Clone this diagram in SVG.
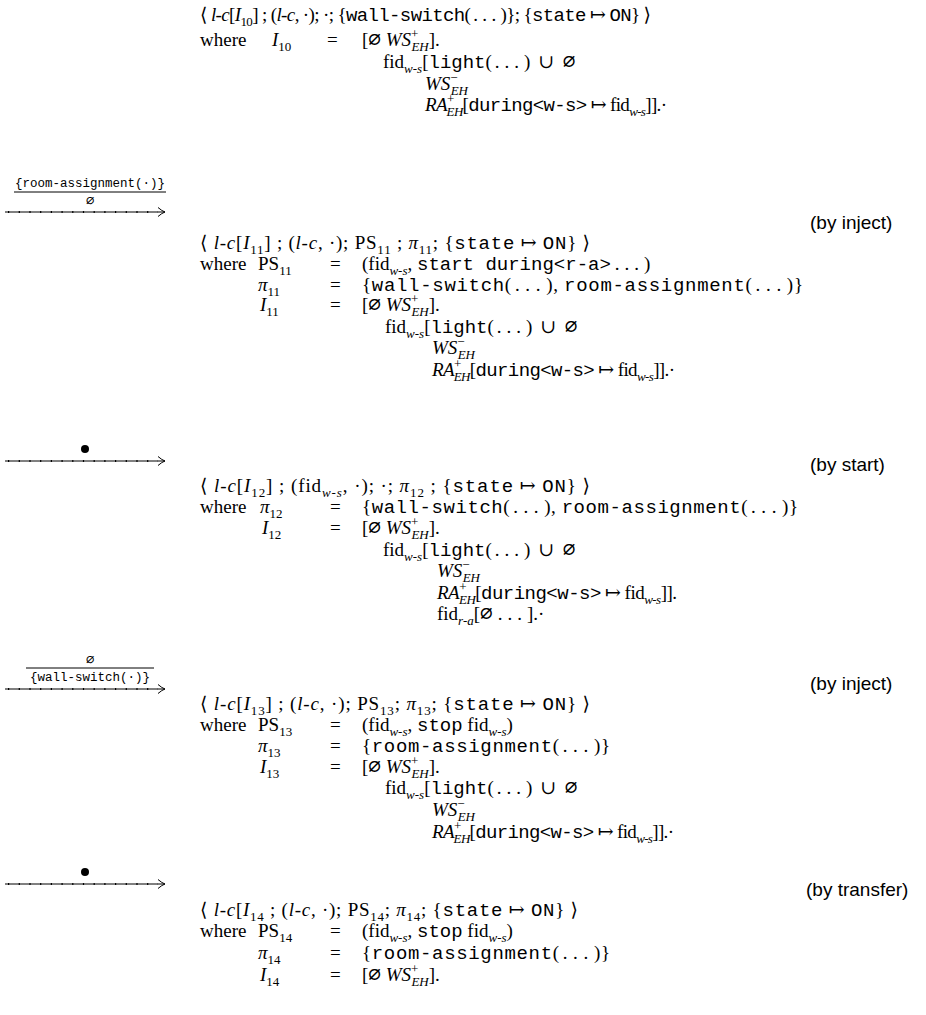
<svg xmlns="http://www.w3.org/2000/svg" width="926" height="1015" viewBox="0 0 926 1015">
<style>
text{font-family:"Liberation Serif","DejaVu Serif",serif;font-size:19px;fill:#000}
.i{font-style:italic}
.m{font-family:"Liberation Mono","DejaVu Sans Mono",monospace;font-size:19px}
.sb{font-size:13px}
.e{font-family:"DejaVu Sans Mono",monospace;font-size:21px}
.d{letter-spacing:5px}
.h{font-family:"Liberation Sans",sans-serif;font-size:19px}
.fm{font-family:"Liberation Mono",monospace;font-size:12.5px}
.ln{stroke:#000;stroke-width:1;fill:none}
.dt{stroke:#000;stroke-width:1.8;stroke-dasharray:1.2 9.5;fill:none}
</style>
<defs>
<marker id="ah" viewBox="-8 -5 9 10" markerWidth="9" markerHeight="10" refX="0" refY="0" orient="auto" markerUnits="userSpaceOnUse">
<path d="M-7,-4.5 Q-3,-1 0,0 Q-3,1 -7,4.5" fill="none" stroke="#000" stroke-width="1"/>
</marker>
</defs>

<g id="connectors">
<g id="c1">
<text class="fm" x="90" y="187" text-anchor="middle">{room-assignment(·)}</text>
<line class="ln" x1="14" y1="192" x2="166" y2="192"/>
<text class="e" x="90" y="205" text-anchor="middle" style="font-size:14px">∅</text>
<line class="ln" x1="5" y1="212" x2="165" y2="212" marker-end="url(#ah)"/>
<line class="dt" x1="8" y1="212" x2="158" y2="212"/>
<text class="h" x="810" y="229">(by inject)</text>
</g>
<g id="c2">
<circle cx="85" cy="449" r="4"/>
<line class="ln" x1="5" y1="461" x2="165" y2="461" marker-end="url(#ah)"/>
<line class="dt" x1="8" y1="461" x2="158" y2="461"/>
<text class="h" x="810" y="471">(by start)</text>
</g>
<g id="c3">
<text class="e" x="90" y="664" text-anchor="middle" style="font-size:14px">∅</text>
<line class="ln" x1="26" y1="668" x2="154" y2="668"/>
<text class="fm" x="90" y="681" text-anchor="middle">{wall-switch(·)}</text>
<line class="ln" x1="5" y1="689" x2="165" y2="689" marker-end="url(#ah)"/>
<line class="dt" x1="8" y1="689" x2="158" y2="689"/>
<text class="h" x="810" y="690">(by inject)</text>
</g>
<g id="c4">
<circle cx="85" cy="872" r="4"/>
<line class="ln" x1="5" y1="884" x2="165" y2="884" marker-end="url(#ah)"/>
<line class="dt" x1="8" y1="884" x2="158" y2="884"/>
<text class="h" x="806" y="896">(by transfer)</text>
</g>
</g>

<g id="s10">
<text x="200" y="21" textLength="451">⟨ <tspan class="i">l-c</tspan>[<tspan class="i">I</tspan><tspan class="sb" y="26">10</tspan><tspan y="21">] ; (</tspan><tspan class="i">l-c</tspan>, ·); ·; {<tspan class="m">wall-switch</tspan>(<tspan class="d" dx="3">...</tspan>)}; {<tspan class="m">state</tspan> ↦ <tspan class="m">ON</tspan>} ⟩</text>
<text x="200" y="46">where</text>
<text x="272" y="46"><tspan class="i">I</tspan><tspan class="sb" y="51">10</tspan></text>
<text x="327" y="46">=</text>
<text x="362" y="46">[<tspan class="e">∅</tspan> <tspan class="i">WS</tspan><tspan class="sb" y="38">+</tspan><tspan class="sb i" dx="-7" y="51">EH</tspan><tspan y="46">].</tspan></text>
<text x="383" y="68">fid<tspan class="sb i" y="73">w-s</tspan><tspan y="68">[</tspan><tspan class="m">light</tspan>(<tspan class="d" dx="3">...</tspan>) <tspan dx="3">∪</tspan> <tspan class="e" dx="4">∅</tspan></text>
<text x="425" y="90"><tspan class="i">WS</tspan><tspan class="sb" y="82">−</tspan><tspan class="sb i" dx="-7" y="95">EH</tspan></text>
<text x="425" y="111" textLength="242"><tspan class="i">RA</tspan><tspan class="sb" y="103">+</tspan><tspan class="sb i" dx="-7" y="116">EH</tspan><tspan y="111">[</tspan><tspan class="m">during&lt;w-s&gt;</tspan> ↦ fid<tspan class="sb i" y="116">w-s</tspan><tspan y="111">]].·</tspan></text>
</g>

<g id="s11">
<text x="200" y="249" textLength="390">⟨ <tspan class="i">l-c</tspan>[<tspan class="i">I</tspan><tspan class="sb" y="254">11</tspan><tspan y="249">] ; (</tspan><tspan class="i">l-c</tspan>, ·); PS<tspan class="sb" y="254">11</tspan><tspan y="249"> ; </tspan><tspan class="i">π</tspan><tspan class="sb" y="254">11</tspan><tspan y="249">; {</tspan><tspan class="m">state</tspan> ↦ <tspan class="m">ON</tspan>} ⟩</text>
<text x="200" y="270">where</text>
<text x="258" y="270">PS<tspan class="sb" y="275">11</tspan></text>
<text x="330" y="270">=</text>
<text x="362" y="270">(fid<tspan class="sb i" y="275">w-s</tspan><tspan y="270">, </tspan><tspan class="m">start during&lt;r-a&gt;</tspan><tspan class="d" dx="4">...</tspan>)</text>
<text x="258" y="291"><tspan class="i">π</tspan><tspan class="sb" y="296">11</tspan></text>
<text x="330" y="291">=</text>
<text x="362" y="291" textLength="441">{<tspan class="m">wall-switch</tspan>(<tspan class="d" dx="3">...</tspan>), <tspan class="m">room-assignment</tspan>(<tspan class="d" dx="3">...</tspan>)}</text>
<text x="260" y="311"><tspan class="i">I</tspan><tspan class="sb" y="316">11</tspan></text>
<text x="330" y="311">=</text>
<text x="362" y="311">[<tspan class="e">∅</tspan> <tspan class="i">WS</tspan><tspan class="sb" y="303">+</tspan><tspan class="sb i" dx="-7" y="316">EH</tspan><tspan y="311">].</tspan></text>
<text x="385" y="333">fid<tspan class="sb i" y="338">w-s</tspan><tspan y="333">[</tspan><tspan class="m">light</tspan>(<tspan class="d" dx="3">...</tspan>) <tspan dx="3">∪</tspan> <tspan class="e" dx="4">∅</tspan></text>
<text x="432" y="354"><tspan class="i">WS</tspan><tspan class="sb" y="346">−</tspan><tspan class="sb i" dx="-7" y="359">EH</tspan></text>
<text x="432" y="376" textLength="243"><tspan class="i">RA</tspan><tspan class="sb" y="368">+</tspan><tspan class="sb i" dx="-7" y="381">EH</tspan><tspan y="376">[</tspan><tspan class="m">during&lt;w-s&gt;</tspan> ↦ fid<tspan class="sb i" y="381">w-s</tspan><tspan y="376">]].·</tspan></text>
</g>

<g id="s12">
<text x="200" y="492" textLength="390">⟨ <tspan class="i">l-c</tspan>[<tspan class="i">I</tspan><tspan class="sb" y="497">12</tspan><tspan y="492">] ; (fid</tspan><tspan class="sb i" y="497">w-s</tspan><tspan y="492">, ·); ·; </tspan><tspan class="i">π</tspan><tspan class="sb" y="497">12</tspan><tspan y="492"> ; {</tspan><tspan class="m">state</tspan> ↦ <tspan class="m">ON</tspan>} ⟩</text>
<text x="200" y="513">where</text>
<text x="260" y="513"><tspan class="i">π</tspan><tspan class="sb" y="518">12</tspan></text>
<text x="330" y="513">=</text>
<text x="362" y="513" textLength="436">{<tspan class="m">wall-switch</tspan>(<tspan class="d" dx="3">...</tspan>), <tspan class="m">room-assignment</tspan>(<tspan class="d" dx="3">...</tspan>)}</text>
<text x="262" y="534"><tspan class="i">I</tspan><tspan class="sb" y="539">12</tspan></text>
<text x="330" y="534">=</text>
<text x="362" y="534">[<tspan class="e">∅</tspan> <tspan class="i">WS</tspan><tspan class="sb" y="526">+</tspan><tspan class="sb i" dx="-7" y="539">EH</tspan><tspan y="534">].</tspan></text>
<text x="383" y="556">fid<tspan class="sb i" y="561">w-s</tspan><tspan y="556">[</tspan><tspan class="m">light</tspan>(<tspan class="d" dx="3">...</tspan>) <tspan dx="3">∪</tspan> <tspan class="e" dx="4">∅</tspan></text>
<text x="437" y="577"><tspan class="i">WS</tspan><tspan class="sb" y="569">−</tspan><tspan class="sb i" dx="-7" y="582">EH</tspan></text>
<text x="437" y="599" textLength="240"><tspan class="i">RA</tspan><tspan class="sb" y="591">+</tspan><tspan class="sb i" dx="-7" y="604">EH</tspan><tspan y="599">[</tspan><tspan class="m">during&lt;w-s&gt;</tspan> ↦ fid<tspan class="sb i" y="604">w-s</tspan><tspan y="599">]].</tspan></text>
<text x="437" y="620">fid<tspan class="sb i" y="625">r-a</tspan><tspan y="620">[</tspan><tspan class="e">∅</tspan><tspan class="d" dx="5">...</tspan>].·</text>
</g>

<g id="s13">
<text x="200" y="710" textLength="390">⟨ <tspan class="i">l-c</tspan>[<tspan class="i">I</tspan><tspan class="sb" y="715">13</tspan><tspan y="710">] ; (</tspan><tspan class="i">l-c</tspan>, ·); PS<tspan class="sb" y="715">13</tspan><tspan y="710">; </tspan><tspan class="i">π</tspan><tspan class="sb" y="715">13</tspan><tspan y="710">; {</tspan><tspan class="m">state</tspan> ↦ <tspan class="m">ON</tspan>} ⟩</text>
<text x="200" y="731">where</text>
<text x="258" y="731">PS<tspan class="sb" y="736">13</tspan></text>
<text x="330" y="731">=</text>
<text x="362" y="731">(fid<tspan class="sb i" y="736">w-s</tspan><tspan y="731">, </tspan><tspan class="m">stop</tspan> fid<tspan class="sb i" y="736">w-s</tspan><tspan y="731">)</tspan></text>
<text x="258" y="752"><tspan class="i">π</tspan><tspan class="sb" y="757">13</tspan></text>
<text x="330" y="752">=</text>
<text x="362" y="752" textLength="248">{<tspan class="m">room-assignment</tspan>(<tspan class="d" dx="3">...</tspan>)}</text>
<text x="260" y="773"><tspan class="i">I</tspan><tspan class="sb" y="778">13</tspan></text>
<text x="330" y="773">=</text>
<text x="362" y="773">[<tspan class="e">∅</tspan> <tspan class="i">WS</tspan><tspan class="sb" y="765">+</tspan><tspan class="sb i" dx="-7" y="778">EH</tspan><tspan y="773">].</tspan></text>
<text x="385" y="794">fid<tspan class="sb i" y="799">w-s</tspan><tspan y="794">[</tspan><tspan class="m">light</tspan>(<tspan class="d" dx="3">...</tspan>) <tspan dx="3">∪</tspan> <tspan class="e" dx="4">∅</tspan></text>
<text x="432" y="816"><tspan class="i">WS</tspan><tspan class="sb" y="808">−</tspan><tspan class="sb i" dx="-7" y="821">EH</tspan></text>
<text x="432" y="838" textLength="242"><tspan class="i">RA</tspan><tspan class="sb" y="830">+</tspan><tspan class="sb i" dx="-7" y="843">EH</tspan><tspan y="838">[</tspan><tspan class="m">during&lt;w-s&gt;</tspan> ↦ fid<tspan class="sb i" y="843">w-s</tspan><tspan y="838">]].·</tspan></text>
</g>

<g id="s14">
<text x="200" y="916" textLength="378">⟨ <tspan class="i">l-c</tspan>[<tspan class="i">I</tspan><tspan class="sb" y="921">14</tspan><tspan y="916"> ; (</tspan><tspan class="i">l-c</tspan>, ·); PS<tspan class="sb" y="921">14</tspan><tspan y="916">; </tspan><tspan class="i">π</tspan><tspan class="sb" y="921">14</tspan><tspan y="916">; {</tspan><tspan class="m">state</tspan> ↦ <tspan class="m">ON</tspan>} ⟩</text>
<text x="200" y="937">where</text>
<text x="258" y="937">PS<tspan class="sb" y="942">14</tspan></text>
<text x="330" y="937">=</text>
<text x="362" y="937">(fid<tspan class="sb i" y="942">w-s</tspan><tspan y="937">, </tspan><tspan class="m">stop</tspan> fid<tspan class="sb i" y="942">w-s</tspan><tspan y="937">)</tspan></text>
<text x="258" y="959"><tspan class="i">π</tspan><tspan class="sb" y="964">14</tspan></text>
<text x="330" y="959">=</text>
<text x="362" y="959" textLength="248">{<tspan class="m">room-assignment</tspan>(<tspan class="d" dx="3">...</tspan>)}</text>
<text x="260" y="981"><tspan class="i">I</tspan><tspan class="sb" y="986">14</tspan></text>
<text x="330" y="981">=</text>
<text x="362" y="981">[<tspan class="e">∅</tspan> <tspan class="i">WS</tspan><tspan class="sb" y="973">+</tspan><tspan class="sb i" dx="-7" y="986">EH</tspan><tspan y="981">].</tspan></text>
</g>
</svg>
